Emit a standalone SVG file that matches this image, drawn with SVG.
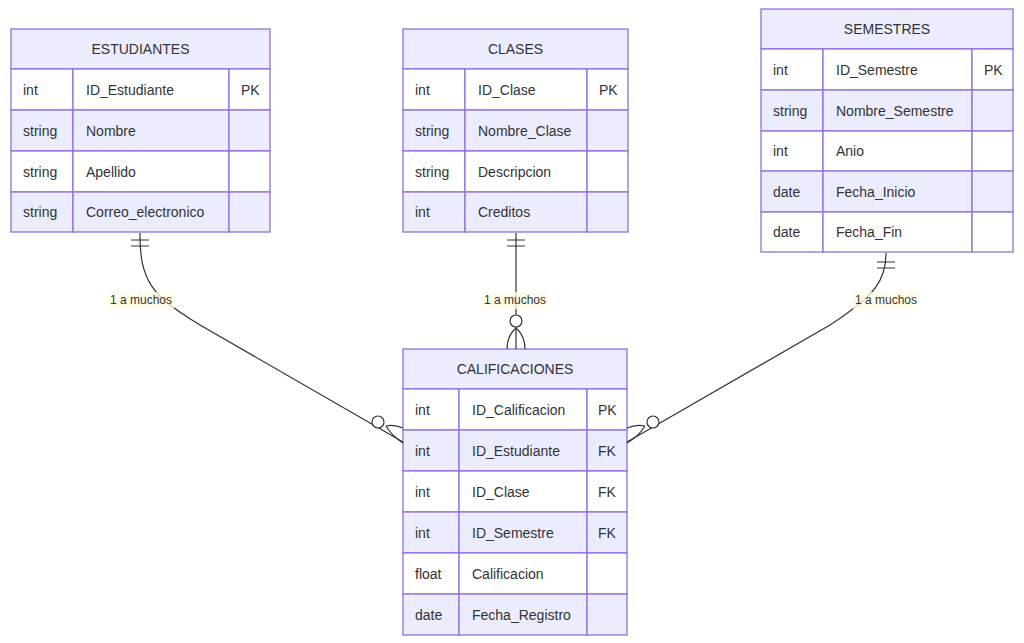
<svg xmlns="http://www.w3.org/2000/svg" width="1024" height="643" viewBox="0 0 1024 643">
<style>
text{font-family:"Liberation Sans",Arial,sans-serif;font-size:14px;fill:#333;dominant-baseline:central}
.h{fill:#ECECFF;stroke:#9370DB;stroke-width:1.3}
.o{fill:#fff;stroke:#9370DB;stroke-width:1.3}
.e{fill:#ECECFF;stroke:#9370DB;stroke-width:1.3}
.c{text-anchor:middle}
.l{fill:none;stroke:#333;stroke-width:1.2}
.lb{fill:#fffbe6;opacity:0.8}
.lt{font-size:12px;text-anchor:middle}
</style>
<g id="ESTUDIANTES">
<rect class="h" x="11" y="29" width="259" height="40"/><text class="c" x="140.5" y="49">ESTUDIANTES</text>
<rect class="o" x="11" y="69" width="62" height="41"/><rect class="o" x="73" y="69" width="156" height="41"/><rect class="o" x="229" y="69" width="41" height="41"/>
<rect class="e" x="11" y="110" width="62" height="41"/><rect class="e" x="73" y="110" width="156" height="41"/><rect class="e" x="229" y="110" width="41" height="41"/>
<rect class="o" x="11" y="151" width="62" height="41"/><rect class="o" x="73" y="151" width="156" height="41"/><rect class="o" x="229" y="151" width="41" height="41"/>
<rect class="e" x="11" y="192" width="62" height="40"/><rect class="e" x="73" y="192" width="156" height="40"/><rect class="e" x="229" y="192" width="41" height="40"/>
<text x="23" y="89.5">int</text><text x="86" y="89.5">ID_Estudiante</text><text x="241" y="89.5">PK</text>
<text x="23" y="130.5">string</text><text x="86" y="130.5">Nombre</text>
<text x="23" y="171.5">string</text><text x="86" y="171.5">Apellido</text>
<text x="23" y="212">string</text><text x="86" y="212">Correo_electronico</text>
</g>
<g id="CLASES">
<rect class="h" x="403" y="29" width="225" height="40"/><text class="c" x="515.5" y="49">CLASES</text>
<rect class="o" x="403" y="69" width="62" height="41"/><rect class="o" x="465" y="69" width="122" height="41"/><rect class="o" x="587" y="69" width="41" height="41"/>
<rect class="e" x="403" y="110" width="62" height="41"/><rect class="e" x="465" y="110" width="122" height="41"/><rect class="e" x="587" y="110" width="41" height="41"/>
<rect class="o" x="403" y="151" width="62" height="41"/><rect class="o" x="465" y="151" width="122" height="41"/><rect class="o" x="587" y="151" width="41" height="41"/>
<rect class="e" x="403" y="192" width="62" height="40"/><rect class="e" x="465" y="192" width="122" height="40"/><rect class="e" x="587" y="192" width="41" height="40"/>
<text x="415" y="89.5">int</text><text x="478" y="89.5">ID_Clase</text><text x="599" y="89.5">PK</text>
<text x="415" y="130.5">string</text><text x="478" y="130.5">Nombre_Clase</text>
<text x="415" y="171.5">string</text><text x="478" y="171.5">Descripcion</text>
<text x="415" y="212">int</text><text x="478" y="212">Creditos</text>
</g>
<g id="SEMESTRES">
<rect class="h" x="761" y="9" width="252" height="40"/><text class="c" x="887" y="29">SEMESTRES</text>
<rect class="o" x="761" y="49" width="62" height="41"/><rect class="o" x="823" y="49" width="149" height="41"/><rect class="o" x="972" y="49" width="41" height="41"/>
<rect class="e" x="761" y="90" width="62" height="41"/><rect class="e" x="823" y="90" width="149" height="41"/><rect class="e" x="972" y="90" width="41" height="41"/>
<rect class="o" x="761" y="131" width="62" height="40"/><rect class="o" x="823" y="131" width="149" height="40"/><rect class="o" x="972" y="131" width="41" height="40"/>
<rect class="e" x="761" y="171" width="62" height="41"/><rect class="e" x="823" y="171" width="149" height="41"/><rect class="e" x="972" y="171" width="41" height="41"/>
<rect class="o" x="761" y="212" width="62" height="40"/><rect class="o" x="823" y="212" width="149" height="40"/><rect class="o" x="972" y="212" width="41" height="40"/>
<text x="773" y="69.5">int</text><text x="836" y="69.5">ID_Semestre</text><text x="984" y="69.5">PK</text>
<text x="773" y="110.5">string</text><text x="836" y="110.5">Nombre_Semestre</text>
<text x="773" y="151">int</text><text x="836" y="151">Anio</text>
<text x="773" y="191.5">date</text><text x="836" y="191.5">Fecha_Inicio</text>
<text x="773" y="232">date</text><text x="836" y="232">Fecha_Fin</text>
</g>
<g id="CALIFICACIONES">
<rect class="h" x="403" y="349" width="224" height="40"/><text class="c" x="515" y="369">CALIFICACIONES</text>
<rect class="o" x="403" y="389" width="56" height="41"/><rect class="o" x="459" y="389" width="128" height="41"/><rect class="o" x="587" y="389" width="40" height="41"/>
<rect class="e" x="403" y="430" width="56" height="41"/><rect class="e" x="459" y="430" width="128" height="41"/><rect class="e" x="587" y="430" width="40" height="41"/>
<rect class="o" x="403" y="471" width="56" height="41"/><rect class="o" x="459" y="471" width="128" height="41"/><rect class="o" x="587" y="471" width="40" height="41"/>
<rect class="e" x="403" y="512" width="56" height="41"/><rect class="e" x="459" y="512" width="128" height="41"/><rect class="e" x="587" y="512" width="40" height="41"/>
<rect class="o" x="403" y="553" width="56" height="41"/><rect class="o" x="459" y="553" width="128" height="41"/><rect class="o" x="587" y="553" width="40" height="41"/>
<rect class="e" x="403" y="594" width="56" height="41"/><rect class="e" x="459" y="594" width="128" height="41"/><rect class="e" x="587" y="594" width="40" height="41"/>
<text x="415" y="409.5">int</text><text x="472" y="409.5">ID_Calificacion</text><text x="598" y="409.5">PK</text>
<text x="415" y="450.5">int</text><text x="472" y="450.5">ID_Estudiante</text><text x="598" y="450.5">FK</text>
<text x="415" y="491.5">int</text><text x="472" y="491.5">ID_Clase</text><text x="598" y="491.5">FK</text>
<text x="415" y="532.5">int</text><text x="472" y="532.5">ID_Semestre</text><text x="598" y="532.5">FK</text>
<text x="415" y="573.5">float</text><text x="472" y="573.5">Calificacion</text>
<text x="415" y="614.5">date</text><text x="472" y="614.5">Fecha_Registro</text>
</g>
<g id="connectors">
<path class="l" d="M140,233 C140,280 150,295 200,325 L403,442"/>
<path class="l" d="M131,240 H149 M131,246 H149"/>
<circle class="l" cx="378" cy="422" r="6" style="fill:#fff"/>
<path class="l" d="M386,426 Q394,424 403,428 M386,426 Q392,436 403,443"/>
<path class="l" d="M516,233 V349 M507,240 H525 M507,246 H525"/>
<circle class="l" cx="516" cy="321" r="6" style="fill:#fff"/>
<path class="l" d="M516,328 Q507,336 507,349 M516,328 Q525,336 525,349"/>
<path class="l" d="M886,253 C886,280 876,295 830,325 L627,442"/>
<path class="l" d="M877,262 H895 M877,268 H895"/>
<circle class="l" cx="653" cy="422" r="6" style="fill:#fff"/>
<path class="l" d="M645,426 Q636,424 627,428 M645,426 Q639,436 627,443"/>
<rect class="lb" x="108" y="292" width="66" height="17"/><text class="lt" x="141" y="300">1 a muchos</text>
<rect class="lb" x="482" y="292" width="66" height="17"/><text class="lt" x="515" y="300">1 a muchos</text>
<rect class="lb" x="853" y="292" width="66" height="17"/><text class="lt" x="886" y="300">1 a muchos</text>
</g>
</svg>
